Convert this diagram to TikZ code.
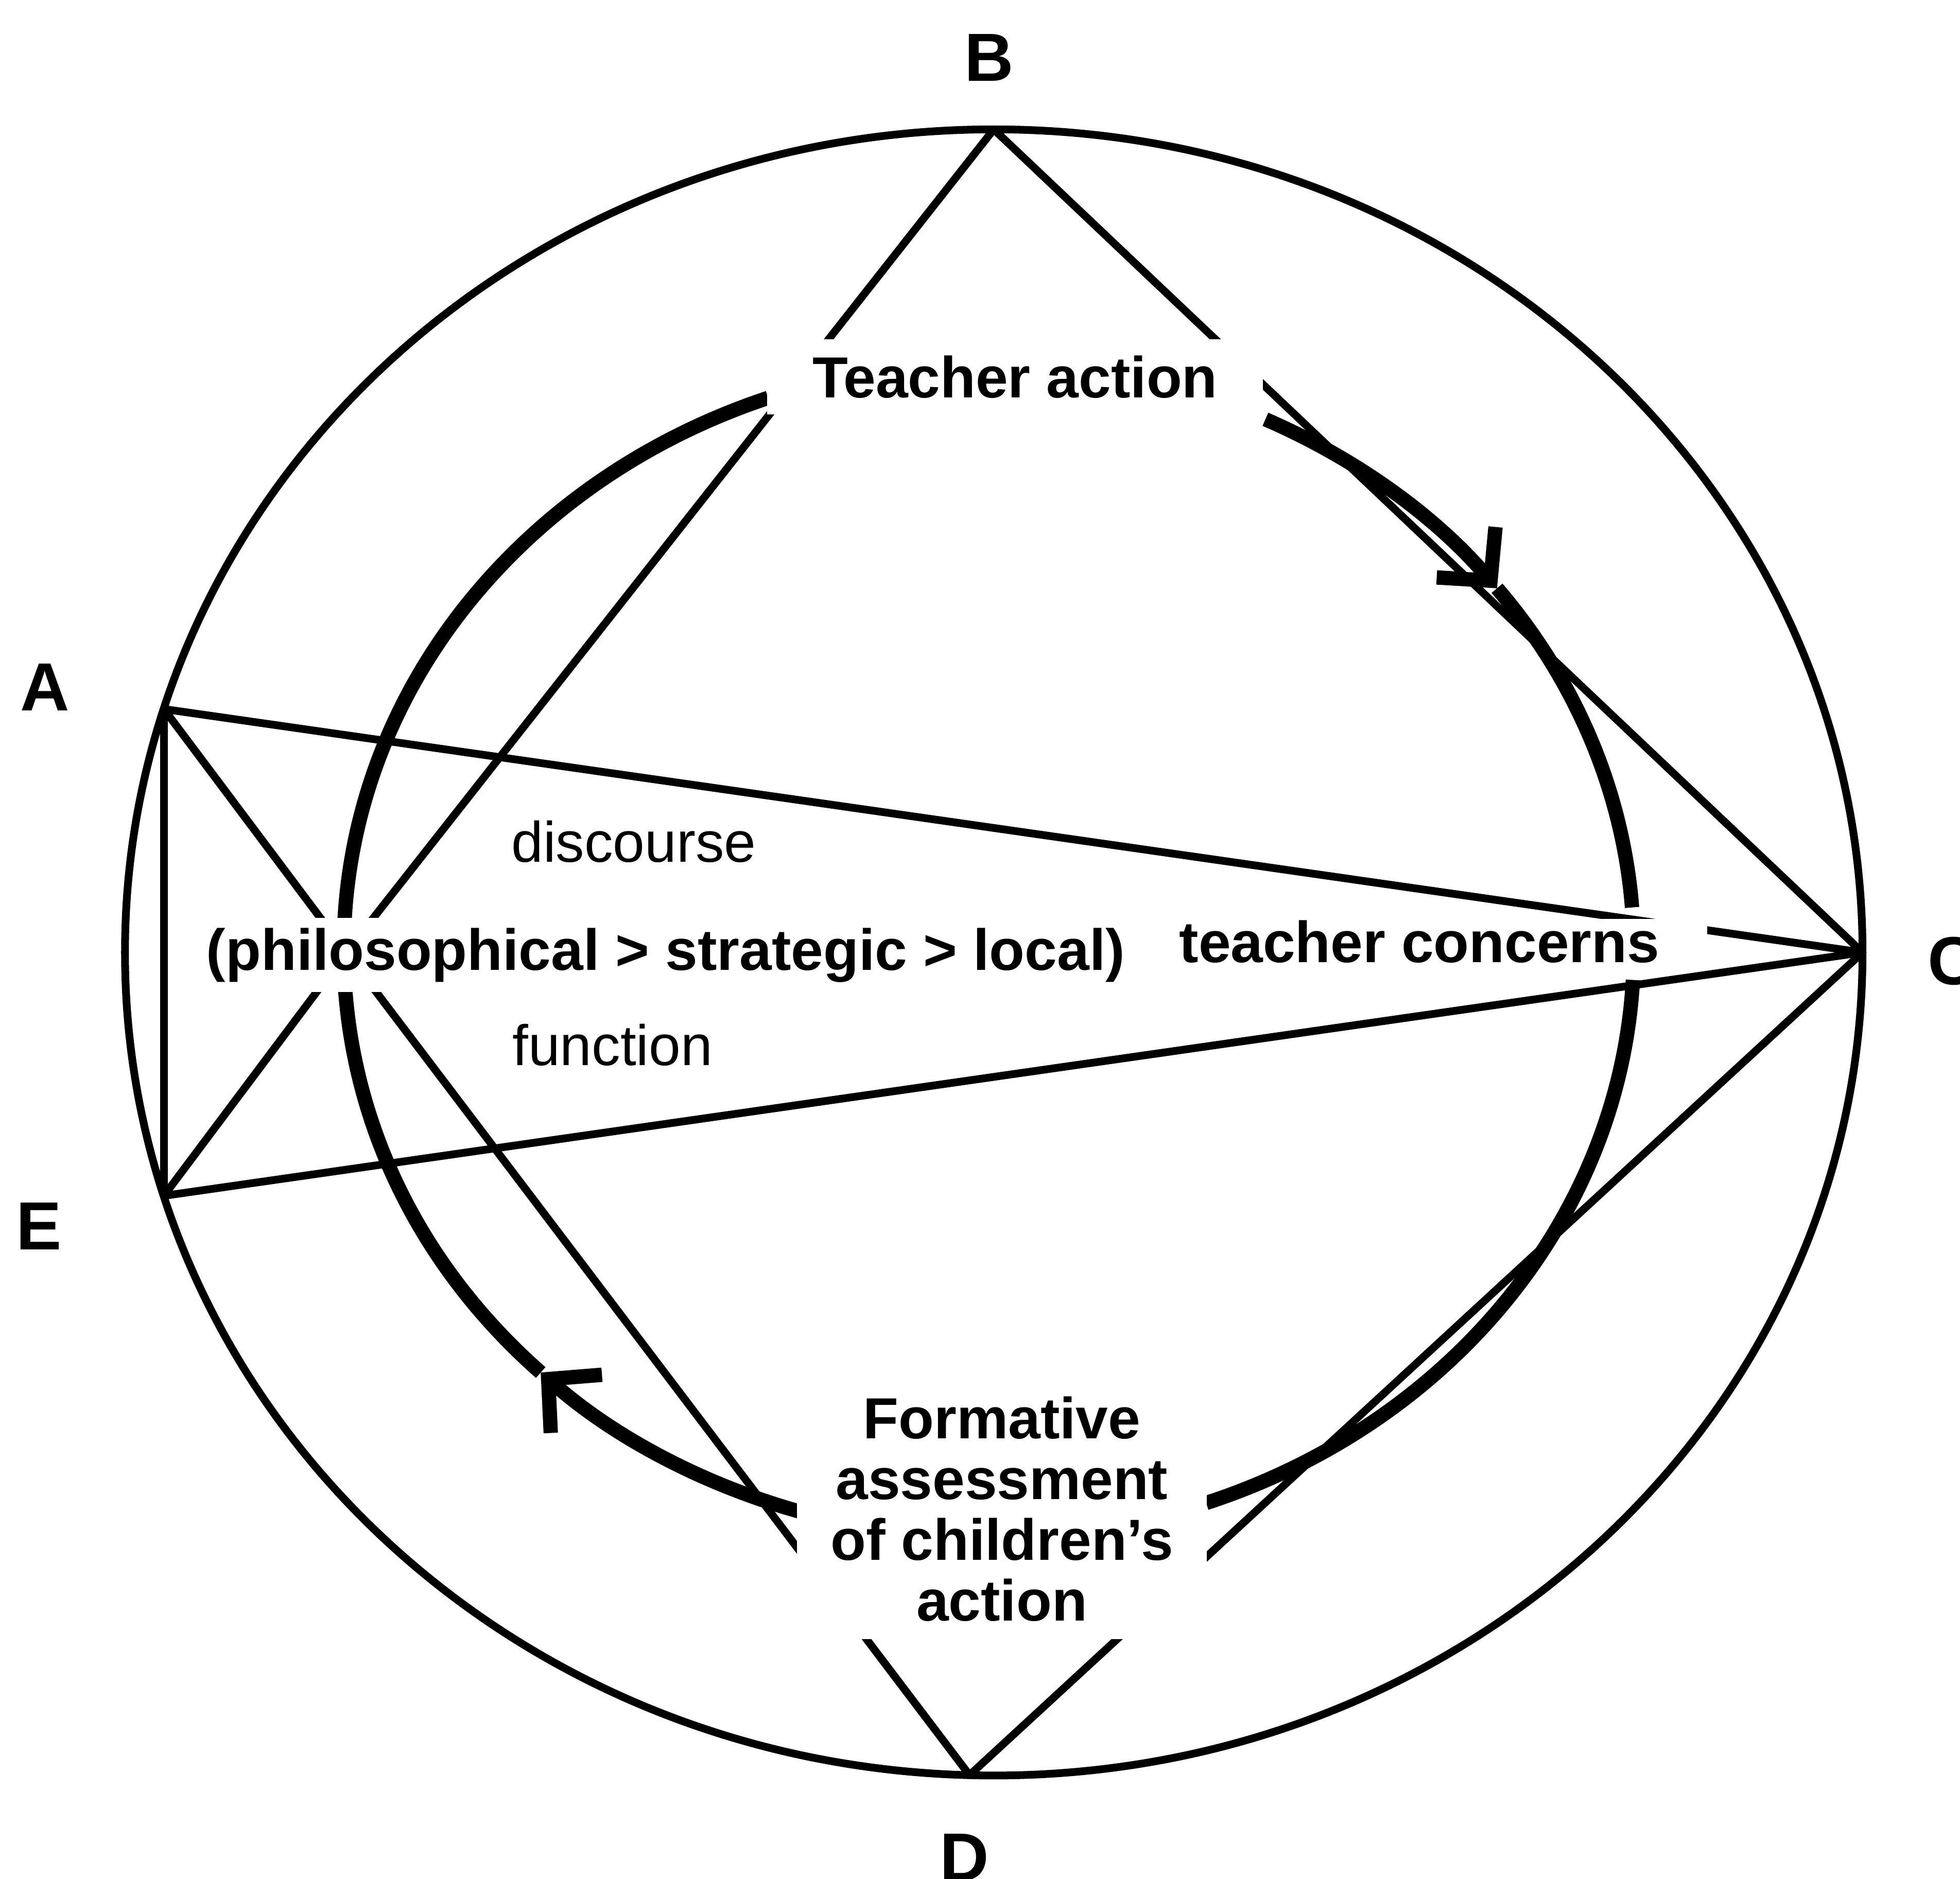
\documentclass[tikz,border=0pt]{standalone}
\usepackage{fontspec}
\setmainfont{Liberation Sans}
\usetikzlibrary{arrows.meta}

\begin{document}
\begin{tikzpicture}[line cap=round,line join=round,
    thinline/.style={line width=0.062cm},
    ringarc/.style={line width=0.115cm,line cap=butt},
    ringtip/.style={-{Straight Barb[length=0.3cm,width=0.62cm]}},
    boxtext/.style={font=\fontsize{13.2pt}{13.85pt}\selectfont\bfseries,fill=white,inner sep=0pt},
    plaintext/.style={font=\fontsize{13pt}{15pt}\selectfont,inner sep=0pt},
    vlabel/.style={font=\fontsize{15.5pt}{18pt}\selectfont\bfseries,inner sep=0pt}]
  \useasboundingbox (-7.95,-7.41) rectangle (7.73,7.62);

  \coordinate (A) at (162.8:6.95 and 6.585);
  \coordinate (B) at (90:6.95 and 6.585);
  \coordinate (C) at (0:6.95 and 6.585);
  \coordinate (D) at (268.4:6.95 and 6.585);
  \coordinate (E) at (197.2:6.95 and 6.585);
  \coordinate (hub) at (-5.18,0);
  \coordinate (ring) at (-0.04,0.02);

  \draw[thinline] (0,0) ellipse [x radius=6.95,y radius=6.585];
  \draw[thinline] (A) -- (E);
  \foreach \p in {A,B,D,E}
    \draw[thinline] (hub) -- (\p) (C) -- (\p);

  \draw[ringarc,ringtip] (ring) ++(64.6:5.16 and 4.7) arc[start angle=64.6,end angle=38,x radius=5.16,y radius=4.7];
  \draw[ringarc] (ring) ++(38:5.16 and 4.7) arc[start angle=38,end angle=4.15,x radius=5.16,y radius=4.7];
  \draw[ringarc] (ring) ++(-2.93:5.16 and 4.7) arc[start angle=-2.93,end angle=-70.3,x radius=5.16,y radius=4.7];
  \draw[ringarc,ringtip] (ring) ++(253:5.16 and 4.7) arc[start angle=253,end angle=226,x radius=5.16,y radius=4.7];
  \draw[ringarc] (ring) ++(226:5.16 and 4.7) arc[start angle=226,end angle=110,x radius=5.16,y radius=4.7];

  \node[boxtext,inner xsep=0.365cm,inner ysep=0.13cm,anchor=base] (teach) at (0.17,4.44) {Teacher action};
  \node[boxtext,inner xsep=0.38cm,inner ysep=0.01cm,anchor=base] (concern) at (3.405,-0.08) {teacher concerns};
  \node[boxtext,inner xsep=0.05cm,inner ysep=0.08cm,anchor=base] (levels) at (-2.625,-0.14) {(philosophical > strategic > local)};
  \node[boxtext,inner xsep=0.27cm,inner ysep=0.14cm,align=center,anchor=south] (assess) at (0.065,-5.50) {Formative\\assessment\\of children’s\\action};
  \node[plaintext,anchor=base] (disc) at (-2.88,0.725) {discourse};
  \node[plaintext,anchor=base] (func) at (-3.05,-0.905) {function};

  \node[vlabel] (lA) at (-7.59,2.12) {A};
  \node[vlabel] (lB) at (-0.035,7.16) {B};
  \node[vlabel] (lC) at (7.67,-0.07) {C};
  \node[vlabel] (lD) at (-0.235,-7.24) {D};
  \node[vlabel] (lE) at (-7.64,-2.19) {E};
\end{tikzpicture}
\end{document}
